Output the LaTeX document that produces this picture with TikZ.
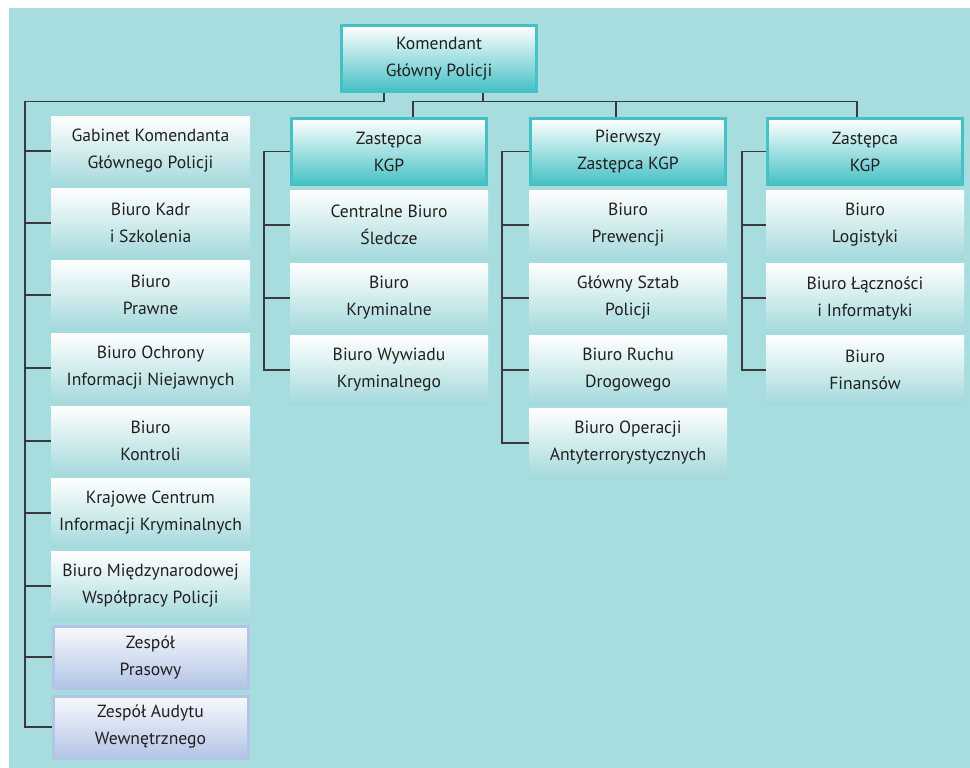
\documentclass[tikz,border=0pt]{standalone}
\usepackage{fontspec}
\setmainfont{PT Sans}
\definecolor{bg}{HTML}{A8DDDF}
\definecolor{tealb}{HTML}{45C1C5}
\definecolor{subb}{HTML}{A4D9DB}
\definecolor{lav}{HTML}{B3C4E6}
\definecolor{lavtop}{HTML}{F8FAFD}
\definecolor{lin}{HTML}{3A3A3A}
\definecolor{txt}{HTML}{231F20}
\begin{document}
\begin{tikzpicture}[x=1pt,y=-1pt,
  box/.style={rectangle, inner sep=0pt, minimum width=199pt, minimum height=70pt,
    align=center, font=\fontsize{17.6}{27}\selectfont, text=txt},
  sub/.style={box, top color=white, bottom color=subb},
  head/.style={box, draw=tealb, line width=3pt, minimum width=195pt, minimum height=66pt,
    top color=white, bottom color=tealb},
  team/.style={box, draw=lav, line width=3pt, minimum width=195pt, minimum height=62pt,
    top color=lavtop, bottom color=lav},
  conn/.style={draw=lin, line width=1.2pt}]
\useasboundingbox (0,0) rectangle (970,768);
\fill[bg] (9,8) rectangle (970,768);

% top
\node[head] (top) at (439,58.5) {Komendant\\Główny Policji};

% left column
\node[sub] (l1) at (150.5,151) {Gabinet Komendanta\\Głównego Policji};
\node[sub] (l2) at (150.5,223) {Biuro Kadr\\i Szkolenia};
\node[sub] (l3) at (150.5,295) {Biuro\\Prawne};
\node[sub] (l4) at (150.5,368) {Biuro Ochrony\\Informacji Niejawnych};
\node[sub] (l5) at (150.5,441) {Biuro\\Kontroli};
\node[sub] (l6) at (150.5,513) {Krajowe Centrum\\Informacji Kryminalnych};
\node[sub] (l7) at (150.5,586) {Biuro Międzynarodowej\\Współpracy Policji};
\node[team] (l8) at (150.5,657) {Zespół\\Prasowy};
\node[team] (l9) at (150.5,727) {Zespół Audytu\\Wewnętrznego};

% deputies
\node[head] (d1) at (389,151.5) {Zastępca\\KGP};
\node[head] (d2) at (628,151.5) {Pierwszy\\Zastępca KGP};
\node[head] (d3) at (865,151.5) {Zastępca\\KGP};

% column 2
\node[sub, minimum width=198pt] (a1) at (389,225) {Centralne Biuro\\Śledcze};
\node[sub, minimum width=198pt] (a2) at (389,298) {Biuro\\Kryminalne};
\node[sub, minimum width=198pt] (a3) at (389,370) {Biuro Wywiadu\\Kryminalnego};

% column 3
\node[sub, minimum width=198pt] (b1) at (628,225) {Biuro\\Prewencji};
\node[sub, minimum width=198pt] (b2) at (628,298) {Główny Sztab\\Policji};
\node[sub, minimum width=198pt] (b3) at (628,370) {Biuro Ruchu\\Drogowego};
\node[sub, minimum width=198pt] (b4) at (628,443) {Biuro Operacji\\Antyterrorystycznych};

% column 4
\node[sub, minimum width=198pt] (c1) at (865,225) {Biuro\\Logistyki};
\node[sub, minimum width=198pt] (c2) at (865,298) {Biuro Łączności\\i Informatyki};
\node[sub, minimum width=198pt] (c3) at (865,370) {Biuro\\Finansów};

% trunk coordinates
\coordinate (lt) at (25,101.5);
\coordinate (hr) at (413,101.5);
\coordinate (hm) at (616,101.5);
\coordinate (hq) at (857,101.5);
\coordinate (ta) at (264,0);
\coordinate (tb) at (502,0);
\coordinate (tc) at (742,0);

% left trunk
\draw[conn] ([xshift=-55pt]top.south) |- (lt) |- (l9.west);
\foreach \n in {l1,l2,l3,l4,l5,l6,l7,l8}
  \draw[conn] (\n.west -| lt) -- (\n.west);

% deputies bar
\draw[conn] ([xshift=44pt]top.south) -- ([xshift=44pt]top.south |- hr);
\draw[conn] (hr |- d1.north) -- (hr) -- (hq) -- (hq |- d3.north);
\draw[conn] (hm) -- (hm |- d2.north);

% column trunks
\draw[conn] (d1.west) -- (d1.west -| ta) |- (a3.west);
\foreach \n in {a1,a2}
  \draw[conn] (\n.west -| ta) -- (\n.west);
\draw[conn] (d2.west) -- (d2.west -| tb) |- (b4.west);
\foreach \n in {b1,b2,b3}
  \draw[conn] (\n.west -| tb) -- (\n.west);
\draw[conn] (d3.west) -- (d3.west -| tc) |- (c3.west);
\foreach \n in {c1,c2}
  \draw[conn] (\n.west -| tc) -- (\n.west);
\end{tikzpicture}
\end{document}
